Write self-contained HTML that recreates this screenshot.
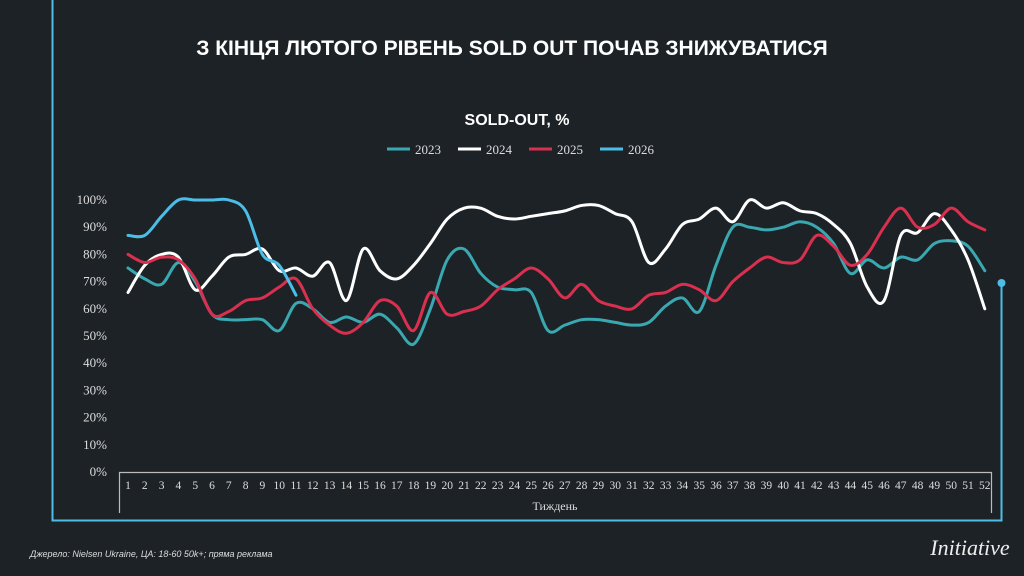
<!DOCTYPE html>
<html><head><meta charset="utf-8"><style>
body{margin:0;background:#1d2226;width:1024px;height:576px;overflow:hidden}
svg{display:block}
</style></head><body>
<svg id="s" width="1024" height="576" xmlns="http://www.w3.org/2000/svg">
<rect width="1024" height="576" fill="#1d2226"/>
<path d="M52.5 0 V520.5 H1001.5 V283" fill="none" stroke="#4bbde6" stroke-width="2"/>
<circle cx="1001.5" cy="283" r="4" fill="#4bbde6"/>
<text x="512" y="55" text-anchor="middle" fill="#fff" font-family="Liberation Sans, sans-serif" font-weight="bold" font-size="21">З КІНЦЯ ЛЮТОГО РІВЕНЬ SOLD OUT ПОЧАВ ЗНИЖУВАТИСЯ</text>
<text x="517" y="125" text-anchor="middle" fill="#fff" font-family="Liberation Sans, sans-serif" font-weight="bold" font-size="16">SOLD-OUT, %</text>
<g font-family="Liberation Serif, serif" font-size="13" fill="#ddd">
<line x1="387" y1="149" x2="410" y2="149" stroke="#3aa8b0" stroke-width="3"/><text x="415" y="154">2023</text>
<line x1="458" y1="149" x2="481" y2="149" stroke="#fff" stroke-width="3"/><text x="486" y="154">2024</text>
<line x1="529" y1="149" x2="552" y2="149" stroke="#d9304f" stroke-width="3"/><text x="557" y="154">2025</text>
<line x1="600" y1="149" x2="623" y2="149" stroke="#4bbde6" stroke-width="3"/><text x="628" y="154">2026</text>
</g>
<g id="yt" font-family="Liberation Serif, serif" font-size="13" fill="#ddd" text-anchor="end"></g>
<path d="M119.5 513 V472.5 H991.5 V513" fill="none" stroke="#bbb" stroke-width="1.2"/>
<g id="xt" font-family="Liberation Serif, serif" font-size="11.5" fill="#ddd" text-anchor="middle"></g>
<text x="555" y="510" text-anchor="middle" fill="#ddd" font-family="Liberation Serif, serif" font-size="12">Тиждень</text>
<g id="ln" fill="none" stroke-width="3" stroke-linecap="round"></g>
<text x="30" y="557" fill="#ddd" font-family="Liberation Sans, sans-serif" font-style="italic" font-size="9">Джерело: Nielsen Ukraine, ЦА: 18-60 50k+; пряма реклама</text>
<text x="970" y="555" text-anchor="middle" fill="#eee" font-family="Liberation Serif, serif" font-style="italic" font-size="22">Initiative</text>
</svg>
<script>
var NS="http://www.w3.org/2000/svg";
function el(t,a,p,txt){var e=document.createElementNS(NS,t);for(var k in a)e.setAttribute(k,a[k]);if(txt!=null)e.textContent=txt;p.appendChild(e);return e;}
var yt=document.getElementById('yt'),xt=document.getElementById('xt'),ln=document.getElementById('ln');
function Y(v){return 472-2.72*v;}
function X(i){return 128+(i-1)*16.8;}
for(var v=0;v<=100;v+=10)el('text',{x:107,y:Y(v)+4},yt,v+'%');
for(var i=1;i<=52;i++)el('text',{x:X(i),y:489},xt,i);
var d={
'#3aa8b0':[75,71,69,77,70,58,56,56,56,52,62,60,55,57,55,58,53,47,60,78,82,73,68,67,66,52,54,56,56,55,54,55,61,64,59,76,90,90,89,90,92,90,84,73,78,75,79,78,84,85,83,74],
'#ffffff':[66,76,80,79,67,72,79,80,82,74,75,72,77,63,82,74,71,76,84,93,97,97,94,93,94,95,96,98,98,95,92,77,82,91,93,97,92,100,97,99,96,95,91,84,68,63,87,88,95,89,78,60],
'#d9304f':[80,77,79,78,71,58,59,63,64,68,71,60,54,51,55,63,61,52,66,58,59,61,67,71,75,71,64,69,63,61,60,65,66,69,67,63,70,75,79,77,78,87,83,76,80,90,97,90,91,97,92,89],
'#4bbde6':[87,87,94,100,100,100,100,96,80,76,65]};
for(var c in d){var a=d[c],p=a.map(function(v,i){return[X(i+1),Y(v)]});
var s='M'+p[0][0]+' '+p[0][1];
for(var i=0;i<p.length-1;i++){var p0=p[i-1]||p[i],p1=p[i],p2=p[i+1],p3=p[i+2]||p2;
s+=' C'+(p1[0]+(p2[0]-p0[0])/6)+' '+(p1[1]+(p2[1]-p0[1])/6)+' '+(p2[0]-(p3[0]-p1[0])/6)+' '+(p2[1]-(p3[1]-p1[1])/6)+' '+p2[0]+' '+p2[1];}
el('path',{d:s,stroke:c},ln);}
</script>
</body></html>
